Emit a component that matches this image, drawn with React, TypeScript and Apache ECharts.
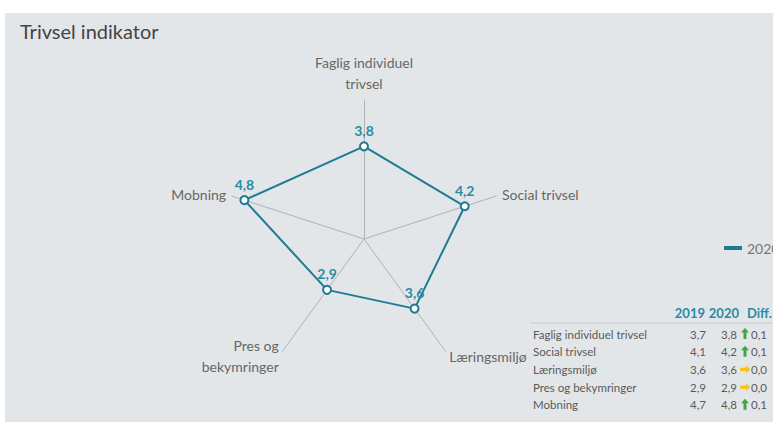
import React, { useEffect, useRef } from "react";
import * as echarts from "echarts";

const categories = ["Faglig individuel trivsel", "Social trivsel", "Læringsmiljø", "Pres og bekymringer", "Mobning"];
const axisNames = ["Faglig individuel\ntrivsel", "Social trivsel", "Læringsmiljø", "Pres og\nbekymringer", "Mobning"];
const values2019 = [3.7, 4.1, 3.6, 2.9, 4.7];
const values2020 = [3.8, 4.2, 3.6, 2.9, 4.8];
const diffs = [0.1, 0.1, 0.0, 0.0, 0.1];
const tableHeaders = ["2019", "2020", "Diff."];
const seriesName = "2020";
const titleText = "Trivsel indikator";
const axisMin = 1;
const axisMax = 5.2;
// radar places indicators counter-clockwise from the top
const radarOrder = [0, 4, 3, 2, 1];

const fmt = (v: number) => v.toFixed(1).replace(".", ",");

const TEAL = "#1d7b93";
const FONT = "Lato, 'Open Sans', sans-serif";

export default function App() {
  const ref = useRef<HTMLDivElement>(null);
  useEffect(() => {
    if (!ref.current) return;
    const chart = echarts.init(ref.current, undefined, { renderer: "svg" });

    const graphics: any[] = [
      { type: "rect", z: -100, silent: true, shape: { x: 5, y: 13, width: 768, height: 409 }, style: { fill: "#e3e6e9" } },
      { type: "line", shape: { x1: 530, y1: 323, x2: 773, y2: 323 }, style: { stroke: "#c9cccf", lineWidth: 1 } },
    ];
    const headerX = [705, 739, 747];
    const headerAlign = ["right", "right", "left"];
    tableHeaders.forEach((h, i) => {
      graphics.push({
        type: "text",
        style: { x: headerX[i], y: 313, text: h, align: headerAlign[i], verticalAlign: "middle", fill: "#2a8ba3", font: `bold 13px ${FONT}` },
      });
    });
    categories.forEach((c, i) => {
      const y = 334 + i * 17.7;
      const font = `11.5px ${FONT}`;
      graphics.push({ type: "text", style: { x: 533, y, text: c, align: "left", verticalAlign: "middle", fill: "#5a5a5a", font } });
      graphics.push({ type: "text", style: { x: 706, y, text: fmt(values2019[i]), align: "right", verticalAlign: "middle", fill: "#5a5a5a", font } });
      graphics.push({ type: "text", style: { x: 737, y, text: fmt(values2020[i]), align: "right", verticalAlign: "middle", fill: "#5a5a5a", font } });
      graphics.push({ type: "text", style: { x: 751, y, text: fmt(diffs[i]), align: "left", verticalAlign: "middle", fill: "#5a5a5a", font } });
      const cx = 745;
      if (diffs[i] > 0) {
        graphics.push({
          type: "polygon",
          shape: { points: [[cx, y - 6], [cx + 4, y - 1.5], [cx + 1.5, y - 1.5], [cx + 1.5, y + 5], [cx - 1.5, y + 5], [cx - 1.5, y - 1.5], [cx - 4, y - 1.5]] },
          style: { fill: "#3ea548" },
        });
      } else {
        graphics.push({
          type: "polygon",
          shape: { points: [[cx + 5, y], [cx + 1, y - 4], [cx + 1, y - 1.7], [cx - 5, y - 1.7], [cx - 5, y + 1.7], [cx + 1, y + 1.7], [cx + 1, y + 4]] },
          style: { fill: "#f3c21b" },
        });
      }
    });

    chart.setOption({
      animation: false,
      backgroundColor: "#ffffff",
      title: {
        text: titleText,
        left: 15,
        top: 16,
        textStyle: { fontSize: 20, fontWeight: "normal", color: "#444", fontFamily: FONT },
      },
      legend: {
        left: 719,
        top: 236,
        icon: "rect",
        itemWidth: 18,
        itemHeight: 4,
        itemGap: 4,
        textStyle: { fontSize: 14, color: "#777", fontFamily: FONT },
        data: [seriesName],
      },
      radar: {
        center: [364, 239],
        radius: 139,
        startAngle: 90,
        shape: "polygon",
        splitNumber: 1,
        nameGap: 6,
        axisName: { color: "#666", fontSize: 14, fontFamily: FONT, lineHeight: 21 },
        axisLine: { lineStyle: { color: "#b0b2b4", width: 1 } },
        splitLine: { show: false },
        splitArea: { show: false },
        axisTick: { show: false },
        axisLabel: { show: false },
        indicator: radarOrder.map((i) => ({ name: axisNames[i], min: axisMin, max: axisMax })),
      },
      series: [
        {
          type: "radar",
          name: seriesName,
          symbol: "emptyCircle",
          symbolSize: 8,
          lineStyle: { color: TEAL, width: 2 },
          itemStyle: { color: TEAL, borderWidth: 2 },
          label: {
            show: true,
            position: "top",
            distance: 4,
            color: "#2a8ba3",
            fontSize: 14,
            fontWeight: "bold",
            fontFamily: FONT,
            formatter: (p: any) => fmt(Number(p.value)),
          },
          data: [{ name: seriesName, value: radarOrder.map((i) => values2020[i]) }],
        },
      ],
      graphic: { elements: graphics },
    });
    return () => chart.dispose();
  }, []);
  return <div ref={ref} style={{ position: "fixed", left: 0, top: 0, width: 773, height: 423 }} />;
}
